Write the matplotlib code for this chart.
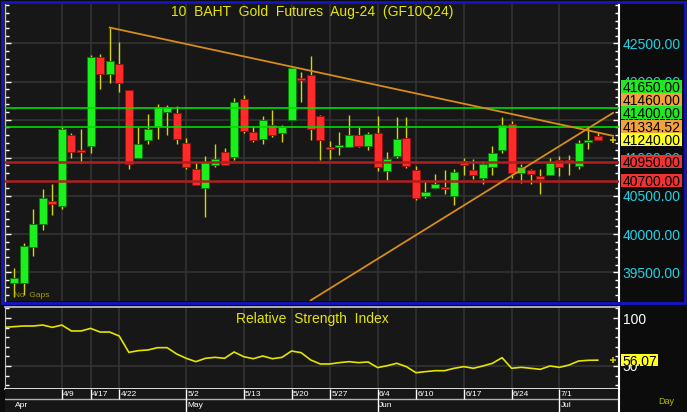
import numpy as np
import matplotlib
matplotlib.use('Agg')
import matplotlib.pyplot as plt
from matplotlib.patches import Rectangle
from matplotlib.ticker import MultipleLocator, FixedLocator, FuncFormatter
import matplotlib.transforms as mtransforms

plt.rcParams['font.family'] = ['Liberation Sans', 'DejaVu Sans']

# ---------------- data ----------------
title = "10  BAHT  Gold  Futures  Aug-24  (GF10Q24)"
rsi_title = "Relative  Strength  Index"

dates = ['4/1', '4/2', '4/3', '4/4', '4/5', '4/9', '4/10', '4/11', '4/17', '4/18',
         '4/19', '4/22', '4/23', '4/24', '4/25', '4/26', '4/29', '4/30', '5/2', '5/3',
         '5/7', '5/8', '5/9', '5/10', '5/13', '5/14', '5/15', '5/16', '5/17', '5/20',
         '5/21', '5/23', '5/24', '5/27', '5/28', '5/29', '5/30', '5/31', '6/4', '6/5',
         '6/6', '6/7', '6/10', '6/11', '6/12', '6/13', '6/14', '6/17', '6/18', '6/19',
         '6/20', '6/21', '6/24', '6/25', '6/26', '6/27', '6/28', '7/1', '7/2', '7/3',
         '7/4', '7/5']

opens = [39362, 39362, 39826, 40126, 40435, 40370, 41304, 41109, 41152, 42326,
         42096, 42230, 41891, 40999, 41239, 41422, 41596, 41587, 41196, 40848,
         40600, 40904, 41078, 41013, 41774, 41339, 41252, 41426, 41326, 41500,
         42052, 42087, 41552, 41148, 41148, 41139, 41304, 41161, 41326, 40826,
         41022, 41261, 40835, 40500, 40600, 40622, 40500, 40957, 40835, 40739,
         40878, 41100, 41448, 40796, 40835, 40761, 40774, 40978, 40978, 40891,
         41204, 41283]
highs = [39559, 39887, 40326, 40587, 40652, 41400, 41326, 41383, 42348, 42357,
         42709, 42522, 41891, 41400, 41578, 41709, 41696, 41683, 41261, 40935,
         41030, 41187, 41130, 41791, 41826, 41422, 41543, 41630, 41435, 42196,
         42130, 42335, 41565, 41217, 41335, 41565, 41404, 41335, 41552, 41078,
         41535, 41535, 40891, 40696, 40783, 40835, 40848, 41000, 40987, 40965,
         41161, 41535, 41478, 40913, 40848, 40848, 41000, 41030, 41043, 41239,
         41413, 41335]
lows = [39178, 39200, 39717, 40056, 40248, 40335, 40999, 40926, 41065, 41900,
        41987, 41870, 40857, 40999, 41187, 41244, 41296, 41187, 40848, 40639,
        40226, 40878, 40904, 40970, 41326, 41204, 41183, 41274, 41204, 41500,
        41739, 41239, 40970, 40987, 41043, 41139, 41143, 41109, 40826, 40704,
        41000, 40870, 40448, 40470, 40600, 40522, 40383, 40770, 40726, 40661,
        40774, 41065, 40739, 40674, 40652, 40530, 40774, 40761, 40774, 40848,
        41122, 41239]
closes = [39427, 39843, 40135, 40469, 40400, 41383, 41074, 41074, 42326, 42096,
          42270, 41987, 40913, 41183, 41378, 41665, 41665, 41248, 40878, 40639,
          40943, 40991, 40904, 41739, 41348, 41239, 41491, 41296, 41404, 42174,
          42022, 41378, 41239, 41113, 41170, 41296, 41161, 41317, 40878, 40991,
          41248, 40891, 40470, 40552, 40661, 40587, 40817, 40900, 40774, 40913,
          41065, 41430, 40796, 40883, 40783, 40726, 40935, 40878, 40948, 41196,
          41230, 41240]

# RSI: first value belongs to the session before 4/1
rsi_values = [90.3, 91.0, 91.7, 91.7, 92.7, 90.3, 92.7, 86.5, 86.5, 89.2, 85.4,
              85.4, 81.2, 64.2, 66.0, 66.7, 69.1, 69.1, 62.5, 58.0, 54.5,
              58.0, 59.0, 58.0, 64.6, 59.7, 57.6, 60.4, 57.6, 59.0, 65.6,
              63.9, 56.3, 52.1, 52.1, 53.5, 54.5, 53.5, 54.2, 48.3, 50.3,
              52.8, 49.3, 43.0, 44.1, 45.1, 45.1, 47.6, 49.3, 47.6, 50.0,
              52.8, 58.7, 47.6, 48.6, 47.6, 46.5, 50.0, 48.6, 51.0, 55.2,
              55.9, 56.07]

date_ticks = ['4/9', '4/17', '4/22', '5/2', '5/13', '5/20', '5/27', '6/4', '6/10',
              '6/17', '6/24', '7/1']
month_names = ['Apr', 'May', 'Jun', 'Jul']

green_levels = [41650, 41400]
red_levels = [40950, 40700]

trend_down_anchor_idx = [10, 29]          # line through these two session highs
trend_up_idx = [31, 62.6]
trend_up_price = [39130, 41590]

price_tags = [41650.00, 41460.00, 41400.00, 41334.52, 41240.00, 40950.00, 40700.00]
price_tag_kind = ['green', 'orange', 'green', 'orange', 'yellow', 'red', 'red']
rsi_last = 56.07

# ---------------- figure ----------------
W, H = 687, 412
fig = plt.figure(figsize=(W / 100, H / 100), dpi=100, facecolor='#0c0c0c')


def px_rect(x0, y0, x1, y1):
    return [x0 / W, 1 - y1 / H, (x1 - x0) / W, (y1 - y0) / H]


ax = fig.add_axes(px_rect(5, 4, 619, 301))
ax_rsi = fig.add_axes(px_rect(5, 307, 619, 389))
ax_dt = fig.add_axes(px_rect(5, 389, 619, 412))

BG = '#171717'
GRID = '#333333'
XLIM = (-0.94, 63.22)
n = len(dates)
x = np.arange(n)
o = np.array(opens, float)
h = np.array(highs, float)
l = np.array(lows, float)
c = np.array(closes, float)
tick_idx = [dates.index(d) for d in date_ticks]

# ---------------- main panel ----------------
ax.set_facecolor(BG)
ax.set_xlim(*XLIM)
ax.set_ylim(39122, 43018)

up = c >= o
ax.vlines(x, l, h, color='#d6d600', lw=1.0, zorder=2)
bb = np.minimum(o, c)
bh = np.maximum(np.abs(c - o), 22)
ax.bar(x[up], bh[up], bottom=bb[up], width=0.84, color='#1cf01c',
       edgecolor='#0b7a0b', lw=0.7, zorder=3)
ax.bar(x[~up], bh[~up], bottom=bb[~up], width=0.84, color='#ff2b2b',
       edgecolor='#9a1010', lw=0.7, zorder=3)

for v in green_levels:
    ax.axhline(v, color='#00dd00', lw=1.2, zorder=4)
for v in red_levels:
    ax.axhline(v, color='#b01e1e', lw=1.8, zorder=4)

# trend lines
i0, i1 = trend_down_anchor_idx
slope = (highs[i1] - highs[i0]) / (i1 - i0)
xd = np.array([i0, n + 0.6])
ax.plot(xd, highs[i0] + slope * (xd - i0), color='#d68c18', lw=1.3, zorder=5)
ax.plot(trend_up_idx, trend_up_price, color='#d68c18', lw=1.3, zorder=5)
ax.plot([n + 0.6], [closes[-1]], marker='+', ms=5, mew=1.2, color='#c8c800',
        clip_on=False, zorder=6)

ax.text(0.5, (301 - 16) / 297, title, transform=ax.transAxes, ha='center',
        va='baseline', color='#e6e600', fontsize=10, zorder=7)
ax.text(9 / 614, 0.008, 'No  Gaps', transform=ax.transAxes, ha='left',
        va='bottom', color='#a0a000', fontsize=6, zorder=7)

ax.yaxis.set_major_locator(FixedLocator(list(range(39500, 43000, 500))))
ax.yaxis.set_minor_locator(MultipleLocator(100))
ax.yaxis.set_major_formatter(FuncFormatter(lambda v, p: f"{v:.2f}"))
ax.tick_params(axis='y', which='both', direction='in', left=True, right=True,
               labelleft=False, labelright=True, color='white',
               labelcolor='#1ed2e6', labelsize=10, pad=2.7)
ax.tick_params(axis='y', which='major', length=4.5, width=1)
ax.tick_params(axis='y', which='minor', length=2.6, width=1)
ax.set_xticks(tick_idx)
ax.tick_params(axis='x', length=0, labelbottom=False)
ax.grid(True, which='major', color=GRID, lw=1.2)
for s in ['top', 'bottom']:
    ax.spines[s].set_visible(False)
ax.spines['left'].set_color('#bdbdbd')
ax.spines['left'].set_lw(1.0)
ax.spines['right'].set_color('white')
ax.spines['right'].set_lw(1.5)

# stacked price tags
tag_colors = {'green': '#22e822', 'orange': '#f2a23c', 'yellow': '#ffff20',
              'red': '#f03232'}
tag_h = 175
order = sorted(range(len(price_tags)), key=lambda k: price_tags[k])
pos = {}
prev = -np.inf
for k in order:
    p = max(price_tags[k], prev + tag_h)
    pos[k] = p
    prev = p
trans = mtransforms.blended_transform_factory(ax.transAxes, ax.transData)
bx0 = (621.5 - 5) / 614
bw = 60.5 / 614
for k, v in enumerate(price_tags):
    yc = pos[k]
    ax.add_patch(Rectangle((bx0, yc - (tag_h - 8) / 2), bw, tag_h - 8,
                           transform=trans, fc=tag_colors[price_tag_kind[k]],
                           ec='none', clip_on=False, zorder=10))
    ax.text(bx0 + bw / 2, yc, f"{v:.2f}", transform=trans, ha='center',
            va='center_baseline', fontsize=10, color='black', clip_on=False,
            zorder=11)

# ---------------- RSI panel ----------------
ax_rsi.set_facecolor(BG)
ax_rsi.set_xlim(*XLIM)
ax_rsi.set_ylim(26, 111.5)
ax_rsi.plot(np.arange(-1, n), rsi_values, color='#e4e400', lw=1.2, zorder=3)
ax_rsi.plot([n + 0.6], [rsi_last], marker='+', ms=5, mew=1.2, color='#c8c800',
            clip_on=False, zorder=6)
ax_rsi.axhline(50, color=GRID, lw=1.2, zorder=1)
ax_rsi.set_xticks(tick_idx)
ax_rsi.tick_params(axis='x', length=0, labelbottom=False)
ax_rsi.grid(True, axis='x', color=GRID, lw=1.2)
ax_rsi.yaxis.set_major_locator(FixedLocator([50, 100]))
ax_rsi.yaxis.set_minor_locator(MultipleLocator(10))
ax_rsi.yaxis.set_major_formatter(FuncFormatter(lambda v, p: f"{v:.0f}"))
ax_rsi.tick_params(axis='y', which='both', direction='in', left=True, right=True,
                   labelleft=False, labelright=True, color='white',
                   labelcolor='white', labelsize=10, pad=2.7)
ax_rsi.tick_params(axis='y', which='major', length=4.5, width=1)
ax_rsi.tick_params(axis='y', which='minor', length=2.6, width=1)
ax_rsi.spines['left'].set_color('#bdbdbd')
ax_rsi.spines['top'].set_color('#c8c8c8')
ax_rsi.spines['top'].set_lw(1.2)
ax_rsi.spines['right'].set_color('white')
ax_rsi.spines['right'].set_lw(1.5)
ax_rsi.spines['bottom'].set_color('white')
ax_rsi.spines['bottom'].set_lw(1.2)
ax_rsi.text(0.5, (389 - 322.5) / 82, rsi_title, transform=ax_rsi.transAxes,
            ha='center', va='baseline', color='#e6e600', fontsize=10)

rtrans = mtransforms.blended_transform_factory(ax_rsi.transAxes, ax_rsi.transData)
rbw = 36.6 / 614
ax_rsi.add_patch(Rectangle((bx0, rsi_last - 6.6), rbw, 13.2, transform=rtrans,
                           fc='#ffff20', ec='none', clip_on=False, zorder=10))
ax_rsi.text(bx0 + rbw / 2, rsi_last, f"{rsi_last:.2f}", transform=rtrans,
            ha='center', va='center_baseline', fontsize=10, color='black',
            clip_on=False, zorder=11)

# ---------------- date strip ----------------
ax_dt.set_facecolor('#161616')
ax_dt.set_xlim(*XLIM)
ax_dt.set_ylim(0, 1)
ax_dt.set_xticks([])
ax_dt.set_yticks([])
for s in ax_dt.spines.values():
    s.set_visible(False)
ax_dt.spines['right'].set_visible(True)
ax_dt.spines['right'].set_color('white')
ax_dt.spines['right'].set_lw(1.5)
split = (412 - 399) / 23
ax_dt.axhline(split, color='#b0b0b0', lw=1.0)
ax_dt.vlines(tick_idx, split, 1, color='white', lw=1.0)
for d, i in zip(date_ticks, tick_idx):
    ax_dt.text(i + 0.15, 0.78, d, ha='left', va='center', color='white',
               fontsize=6)
month_num = {'Apr': '4', 'May': '5', 'Jun': '6', 'Jul': '7'}
for k, m in enumerate(month_names):
    first = next(i for i, d in enumerate(dates) if d.split('/')[0] == month_num[m])
    if k > 0:
        ax_dt.vlines([first], 0, split, color='white', lw=1.0)
    ax_dt.text(first + 0.15, 0.27, m, ha='left', va='center', color='white',
               fontsize=6)

fig.text(658 / W, 1 - 404 / H, 'Day', ha='left', va='baseline', color='#b8b800',
         fontsize=6.5)

# blue frame around main panel
fig.add_artist(Rectangle((2 / W, 1 - 303 / H), 683 / W, 301 / H, fill=False,
                         ec='#1414c8', lw=2.0, transform=fig.transFigure))

fig.savefig('out.png', dpi=100, facecolor=fig.get_facecolor())
